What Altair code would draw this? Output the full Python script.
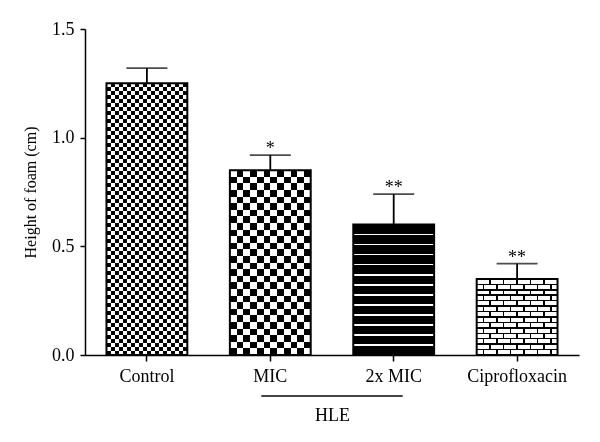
import altair as alt
import pandas as pd

# ---- data ----
categories = ["Control", "MIC", "2x MIC", "Ciprofloxacin"]
means = [1.25, 0.85, 0.60, 0.35]
errors = [0.07, 0.07, 0.14, 0.07]
stars = ["", "*", "**", "**"]

df = pd.DataFrame({
    "cat": categories,
    "mean": means,
    "upper": [m + e for m, e in zip(means, errors)],
    "star": stars,
})
hle = pd.DataFrame({"cat": ["MIC"], "end": ["2x MIC"]})

# ---- layout / style ----
PLOT_W, PLOT_H, YMAX = 494, 326, 1.5
BAR_W = 81.0
FONT = "Liberation Serif"
BLACK, WHITE = "#000000", "#ffffff"


def bar_px(v):
    return v / YMAX * PLOT_H


def grad(stops, horizontal):
    return {"gradient": "linear", "x1": 0, "y1": 0,
            "x2": 1 if horizontal else 0, "y2": 0 if horizontal else 1,
            "stops": stops}


def bands(n, colors):
    s = []
    for k in range(n):
        c = colors[k % len(colors)]
        s += [{"offset": k / n, "color": c}, {"offset": (k + 1) / n, "color": c}]
    return s


def lines(positions, width, line, bg):
    s = [{"offset": 0, "color": bg}]
    for p in sorted(positions):
        a = min(max(p - width / 2, 0), 1)
        b = min(max(p + width / 2, 0), 1)
        s += [{"offset": a, "color": bg}, {"offset": a, "color": line},
              {"offset": b, "color": line}, {"offset": b, "color": bg}]
    s.append({"offset": 1, "color": bg})
    return s


XS = alt.Scale(domain=categories, paddingInner=0.345, paddingOuter=0.174)
XAX = alt.Axis(title="HLE", labelAngle=0, labelFont=FONT, labelFontSize=18,
               labelColor=BLACK, labelPadding=6, tickSize=6, tickWidth=1.5,
               tickColor=BLACK, domainColor=BLACK, domainWidth=1.5,
               titleFont=FONT, titleFontSize=18, titleFontWeight="normal",
               titleColor=BLACK, titlePadding=21, grid=False)
X = alt.X("cat:N", scale=XS, axis=XAX)

YAX = alt.Axis(title="Height of foam (cm)", values=[0, 0.5, 1.0, 1.5], format=".1f",
               labelFont=FONT, labelFontSize=18, labelColor=BLACK, labelPadding=6,
               tickSize=5, tickWidth=1.5, tickColor=BLACK, domainColor=BLACK,
               domainWidth=1.5, titleFont=FONT, titleFontSize=16,
               titleFontWeight="normal", titleColor=BLACK, titlePadding=13, grid=False)
YS = alt.Scale(domain=[0, YMAX])


def Y(field):
    return alt.Y(field, scale=YS, axis=YAX)


def bar_base(name):
    return alt.Chart(df).transform_filter(alt.datum.cat == name).encode(x=X, y=Y("mean:Q"))


layers = []

# checkerboards (vertical stripes XOR horizontal stripes)
for name, cell in [("Control", 4.0), ("MIC", 6.6)]:
    v = means[categories.index(name)]
    cols = round(BAR_W / cell)
    rows = round(bar_px(v) / cell)
    b = bar_base(name)
    layers.append(b.mark_bar(fill=grad(bands(cols, [BLACK, WHITE]), True)))
    layers.append(b.mark_bar(fill=grad(bands(rows, [WHITE, BLACK]), False),
                             blend="difference"))

# 2x MIC: black with thin white horizontal lines
v = means[categories.index("2x MIC")]
n = round(bar_px(v) / 10.0)
lw = 1.5 / bar_px(v)
b = bar_base("2x MIC")
layers.append(b.mark_bar(fill=grad(lines([(k + 1) / n for k in range(n - 1)], lw, WHITE, BLACK),
                                   False)))

# Ciprofloxacin: brick pattern
v = means[categories.index("Ciprofloxacin")]
nb = 6
nr = round(bar_px(v) / 5.4)
vw = 1.5 / BAR_W
hw = 1.5 / bar_px(v)
la = [k / nb for k in range(1, nb)]
lb = [(k + 0.5) / nb for k in range(nb)]
b = bar_base("Ciprofloxacin")
layers.append(b.mark_bar(fill=grad(lines(la + lb, vw, WHITE, BLACK), True)))
layers.append(b.mark_bar(fill=grad(bands(nr, [BLACK, WHITE]), False), blend="multiply"))
layers.append(b.mark_bar(fill=grad(lines(la, vw, BLACK, WHITE), True), blend="difference"))
layers.append(b.mark_bar(fill=grad(lines([k / nr for k in range(1, nr)], hw, BLACK, WHITE), False),
                         blend="multiply"))

# outlines
layers.append(alt.Chart(df).mark_bar(fill="transparent", stroke=BLACK, strokeWidth=2)
              .encode(x=X, y=Y("mean:Q")))

# error bars (upper only)
layers.append(alt.Chart(df).mark_rule(color=BLACK, strokeWidth=1.8)
              .encode(x=X, y=Y("mean:Q"), y2="upper"))
layers.append(alt.Chart(df).mark_tick(color=BLACK, thickness=1.8, size=41)
              .encode(x=X, y=Y("upper:Q")))

# significance stars
layers.append(alt.Chart(df).mark_text(font=FONT, fontSize=18, baseline="alphabetic", dy=-1,
                                      color=BLACK)
              .encode(x=X, y=Y("upper:Q"), text="star:N"))

# HLE group line
layers.append(alt.Chart(hle).mark_rule(color="#444444", strokeWidth=2, xOffset=-9, x2Offset=9)
              .encode(x=X, x2="end:N", y=alt.value(PLOT_H + 41)))

chart = alt.layer(*layers).properties(
    width=PLOT_W, height=PLOT_H,
    autosize=alt.AutoSizeParams(type="none"),
    padding={"left": 85, "top": 29, "right": 21, "bottom": 87},
).configure_view(strokeWidth=0)

chart.save("out.html", embed_options={"renderer": "svg", "actions": False})
